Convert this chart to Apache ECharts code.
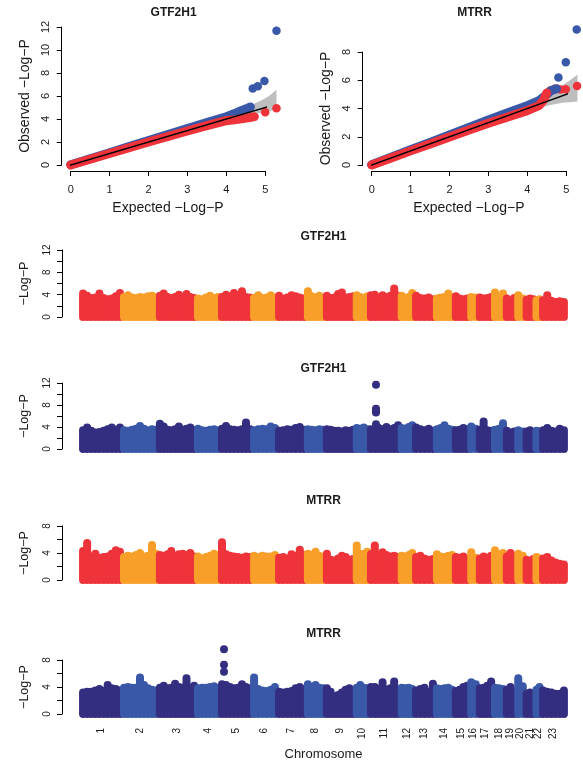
<!DOCTYPE html>
<html><head><meta charset="utf-8">
<script src="https://cdn.jsdelivr.net/npm/echarts@6/dist/echarts.min.js"></script>
<style>html,body{margin:0;padding:0;background:#fff}#c{width:583px;height:763px}</style>
</head><body><div id="c"></div>
<script>
const FONT = '"Liberation Sans", Arial, Helvetica, sans-serif';
const RED = '#EE343A', ORANGE = '#F79F29', NAVY = '#332E80', LBLUE = '#3A58A8', QQBLUE = '#3A58A8', GREY = '#BEBEBE';
const TXT = '#1a1a1a';

// ---------- chromosomes (SNP-index widths) ----------
const chromNames = ['1','2','3','4','5','6','7','8','9','10','11','12','13','14','15','16','17','18','19','20','21','22','23'];
const chromSizes = [41,36,38,24,32,25,29,19,30,14,31,14,21,19,15,9,15,12,11,9,10,6,25];

// ---------- Manhattan envelopes: -log10(P) column tops per chromosome ----------
const gtfAdjTops = [
 [4.2,3.8,3.4,3.5,4.2,3.4,3.2,3.3,3.7,4.3],
 [3.6,3.9,3.5,3.4,3.6,3.5,3.7,3.8,3.5],
 [3.8,4.2,3.6,3.4,3.6,4.0,3.5,4.1,3.6,3.4],
 [3.3,3.2,3.5,3.8,3.4,3.6],
 [3.6,4.0,3.7,4.3,3.9,4.6,3.6,3.5],
 [3.4,3.9,3.4,3.5,3.9,3.5],
 [3.8,3.3,3.5,3.9,3.7,3.5,3.3],
 [4.6,3.7,3.5,3.8,3.5],
 [3.8,3.4,3.5,4.1,4.4,3.5,3.6,3.7],
 [3.9,3.6,3.4,3.7],
 [3.9,4.0,3.5,3.9,3.6,3.8,5.1,3.8],
 [3.8,3.4,3.6,4.3],
 [3.8,3.4,3.3,3.5,3.2],
 [3.3,3.5,3.6,4.2,3.6],
 [3.7,3.3,3.2,3.3],
 [3.6,3.5],
 [3.5,3.3,3.4,3.6],
 [4.4,3.6,4.2],
 [3.3,2.9,3.4],
 [3.9,3.3],
 [3.1,3.3,3.2],
 [3.0,3.2],
 [3.0,3.9,2.9,2.7,2.8,2.7]
];
const gtfRawTops = [
 [3.4,3.9,3.3,3.0,3.1,3.3,3.6,3.9,3.5,3.9],
 [3.4,3.3,3.5,3.7,4.2,3.7,3.4,3.6,3.5],
 [4.6,4.1,3.5,3.4,3.6,4.1,3.5,3.7,3.9,3.4],
 [3.7,3.4,3.3,3.5,3.6,3.4],
 [3.7,4.2,3.6,3.5,3.4,3.6,4.8,3.6],
 [3.4,3.6,3.7,3.6,4.1,3.8],
 [3.3,3.4,3.6,3.5,3.8,4.0,3.5],
 [3.6,3.5,3.4,3.6,3.5],
 [3.6,3.5,3.3,3.3,3.2,3.4,3.3,3.5],
 [3.8,3.7,3.9,3.6],
 [3.6,3.5,3.8,3.6,4.0,3.6,3.8,4.3],
 [3.8,3.7,4.0,4.3],
 [3.9,3.6,3.4,3.7,3.3],
 [3.6,3.8,4.3,3.7,3.5],
 [3.4,3.5,3.8,3.6],
 [4.1,3.7],
 [3.5,5.0,3.4,3.3],
 [3.5,3.7,4.7],
 [3.3,3.0,3.2],
 [3.4,3.2],
 [3.2,3.4,3.1],
 [3.3,3.2],
 [3.4,3.8,3.3,3.2,3.7,3.4]
];
const gtfHitPos = 295;              // SNP index of the chr11 signal
const gtfHits = [11.67, 7.3, 6.85, 6.65, 4.5];

const mtrrAdjTops = [
 [4.3,5.5,3.5,3.9,3.3,3.4,3.5,3.9,4.4,4.2],
 [3.4,3.6,3.5,3.7,4.0,3.5,3.6,5.2,3.9],
 [3.7,3.6,3.8,4.3,3.6,3.8,3.9,3.7,4.0,3.5],
 [3.5,3.2,3.4,3.6,3.9,3.7],
 [5.6,3.8,3.6,3.5,3.4,3.3,3.5,3.4],
 [3.6,3.4,3.6,3.5,3.5,3.7],
 [3.3,3.4,3.2,3.8,3.6,4.5,3.7],
 [3.9,3.7,4.2,3.6,3.4],
 [3.9,3.0,2.9,3.2,3.6,3.4,3.0,3.1],
 [5.1,3.8,3.9,4.2],
 [3.8,5.1,3.6,4.1,3.7,3.5,3.6,3.4],
 [3.6,3.5,3.7,4.0],
 [3.4,3.6,3.2,3.0,3.1],
 [3.8,3.5,3.4,3.6,3.7],
 [3.4,3.3,3.5,3.1],
 [4.1,3.3],
 [3.2,3.5,3.3,3.6],
 [4.4,3.8,4.0],
 [3.5,4.0,3.6],
 [3.9,3.6],
 [3.0,2.8,3.1],
 [3.4,3.2],
 [3.2,3.4,2.9,2.6,2.4,2.3]
];
const mtrrRawTops = [
 [3.2,3.3,3.3,3.5,3.7,3.4,4.3,3.8,3.7,3.5],
 [3.9,4.0,3.9,3.9,5.4,4.3,3.8,3.6,3.5],
 [3.9,4.2,3.8,3.9,4.5,4.0,3.9,5.3,3.8,4.2],
 [3.8,3.9,3.9,4.0,4.1,3.9],
 [4.4,4.3,4.0,3.8,3.9,4.4,4.0,3.8],
 [5.4,3.7,3.5,3.4,3.6,4.0],
 [3.3,3.2,3.3,3.4,3.8,4.0,3.7],
 [4.4,4.0,4.3,3.9,3.8],
 [3.8,3.3,2.6,2.8,3.2,3.6,3.8,3.4],
 [3.9,4.3,3.9,3.8],
 [4.0,4.0,3.7,4.7,3.6,3.8,4.8,3.6],
 [3.9,3.8,3.9,3.7],
 [3.5,3.7,3.9,3.3,4.5],
 [3.8,3.7,3.8,3.9,3.6],
 [3.4,3.6,4.0,4.2],
 [4.7,4.4],
 [3.8,3.9,4.2,4.8],
 [3.9,3.8,3.7],
 [3.6,4.0,3.4],
 [5.3,4.1],
 [3.0,3.2,2.9],
 [3.6,4.0],
 [3.5,3.3,3.2,3.0,3.0,3.5]
];
const mtrrHitPos = 143;             // SNP index of the chr5 signal
const mtrrHits = [9.6, 7.3, 6.25];

// ---------- QQ plots: [expected, observed] ----------
const gtfBlueBand = [[0,0.02],[0.5,0.55],[1,1.07],[1.5,1.6],[2,2.12],[2.5,2.65],[3,3.17],[3.5,3.68],[4,4.2],[4.2,4.45],[4.4,4.75],[4.55,4.95],[4.62,5.05]];
const gtfBlueTail = [[4.68,6.65],[4.81,6.85],[4.98,7.3],[5.29,11.67]];
const gtfRedBand  = [[0,0],[0.5,0.5],[1,1.0],[1.5,1.5],[2,2.0],[2.5,2.48],[3,2.96],[3.5,3.42],[4,3.85],[4.3,3.97],[4.6,4.12],[4.72,4.2]];
const gtfRedTail  = [[5.0,4.58],[5.29,4.93]];
const gtfCiX    = [3.8,4.0,4.3,4.6,4.9,5.1,5.29];
const gtfCiLow  = [3.7,3.85,4.1,4.35,4.55,4.7,4.82];
const gtfCiHigh = [3.95,4.35,4.75,5.15,5.6,6.0,6.55];

const mtrrBlueBand = [[0,0.03],[0.5,0.56],[1,1.08],[1.5,1.6],[2,2.13],[2.5,2.66],[3,3.18],[3.5,3.7],[4,4.2],[4.3,4.55],[4.5,5.0],[4.6,5.25],[4.75,5.4]];
const mtrrBlueTail = [[4.8,6.2],[4.99,7.27],[5.27,9.6]];
const mtrrRedBand  = [[0,0],[0.5,0.5],[1,1.0],[1.5,1.49],[2,1.98],[2.5,2.47],[3,2.95],[3.5,3.4],[4,3.85],[4.3,4.2],[4.42,4.6],[4.5,5.1]];
const mtrrRedTail  = [[4.6,5.3],[4.7,5.4],[4.77,5.4],[4.85,5.35],[4.99,5.36],[5.28,5.6]];
const mtrrCiX    = [3.8,4.0,4.3,4.6,4.9,5.1,5.29];
const mtrrCiLow  = [3.7,3.85,4.05,4.25,4.4,4.45,4.5];
const mtrrCiHigh = [3.95,4.35,4.75,5.2,5.65,6.0,6.4];

const refLine = [[-0.21,-0.21],[5.5,5.5]];

// ---------- helpers ----------
const totalSnps = chromSizes.reduce((a,b)=>a+b,0);
const chromCenters = [];
(function(){ let s=0; chromSizes.forEach(w=>{ chromCenters.push(s+w/2); s+=w; }); })();

function manhattanData(tops){
  const out=[]; let start=0;
  tops.forEach((arr,c)=>{
    const w=chromSizes[c], n=arr.length;
    arr.forEach((h,i)=>out.push([start+(i+0.5)*w/n, h, c%2]));
    start+=w;
  });
  return out;
}
function capsules(idx, tops, colors){
  return {type:'custom', xAxisIndex:idx, yAxisIndex:idx, data:manhattanData(tops), clip:false, silent:true,
    encode:{x:0,y:1},
    renderItem:(p,api)=>{
      const x=api.value(0), h=api.value(1);
      const a=api.coord([x,0]), b=api.coord([x,h]);
      return {type:'line', shape:{x1:a[0],y1:a[1],x2:b[0],y2:b[1]},
        style:{stroke:colors[api.value(2)], lineWidth:8, lineCap:'round'}};
    }};
}
function hits(idx, pos, vals, color){
  return {type:'scatter', xAxisIndex:idx, yAxisIndex:idx, data:vals.map(v=>[pos,v]), symbol:'circle', symbolSize:8,
    itemStyle:{color:color, opacity:1}, clip:false, silent:true};
}
function ciPoly(idx, xs, lo, hi){
  const data = xs.map((x,i)=>[x,lo[i],hi[i]]);
  return {type:'custom', xAxisIndex:idx, yAxisIndex:idx, data, clip:false, silent:true, encode:{x:0,y:1},
    renderItem:(p,api)=>{
      if (p.dataIndex!==0) return null;
      const pts=[];
      data.forEach(d=>pts.push(api.coord([d[0],d[2]])));
      for(let i=data.length-1;i>=0;i--) pts.push(api.coord([data[i][0],data[i][1]]));
      return {type:'polygon', shape:{points:pts}, style:{fill:GREY}};
    }};
}
function band(idx, pts, color){
  return {type:'line', xAxisIndex:idx, yAxisIndex:idx, data:pts, showSymbol:false, symbol:'none', clip:false, silent:true,
    lineStyle:{color, width:9, cap:'round', join:'round'}};
}
function tail(idx, pts, color){
  return {type:'scatter', xAxisIndex:idx, yAxisIndex:idx, data:pts, symbol:'circle', symbolSize:8.5,
    itemStyle:{color, opacity:1}, clip:false, silent:true};
}
function diag(idx){
  return {type:'line', xAxisIndex:idx, yAxisIndex:idx, data:refLine, showSymbol:false, symbol:'none', clip:false, silent:true,
    lineStyle:{color:'#000', width:1.3}};
}

const axLine = {show:true, onZero:false, lineStyle:{color:'#000', width:1}};
const axTick = {show:true, length:5, lineStyle:{color:'#000', width:1}};

function qqX(idx){
  return {gridIndex:idx, type:'value', min:0, max:5, interval:1, offset:6,
    axisLine:axLine, axisTick:axTick, splitLine:{show:false},
    axisLabel:{fontSize:11, color:TXT, fontFamily:FONT, margin:13},
    name:'Expected \u2212Log\u2212P', nameLocation:'middle', nameGap:30,
    nameTextStyle:{fontSize:14, color:TXT, fontFamily:FONT}};
}
function qqY(idx, max){
  return {gridIndex:idx, type:'value', min:0, max:max, interval:2, offset:9,
    axisLine:axLine, axisTick:axTick, splitLine:{show:false},
    axisLabel:{fontSize:11, color:TXT, fontFamily:FONT, rotate:90, margin:10},
    name:'Observed \u2212Log\u2212P', nameLocation:'middle', nameGap:30,
    nameTextStyle:{fontSize:14, color:TXT, fontFamily:FONT}};
}
function mX(idx, labels){
  const ax = {gridIndex:idx, type:'value', min:0, max:totalSnps, splitLine:{show:false},
    axisLine:{show:false}, axisTick:{show:false}, axisLabel:{show:false}};
  if (labels){
    ax.axisLabel = {show:true, customValues:chromCenters, rotate:90, fontSize:10, color:TXT, fontFamily:FONT, margin:14,
      formatter:(v)=>{ const i=chromCenters.findIndex(c=>Math.abs(c-v)<1e-6); return i>=0?chromNames[i]:''; }};
    ax.name='Chromosome'; ax.nameLocation='middle'; ax.nameGap=34;
    ax.nameTextStyle={fontSize:13, color:TXT, fontFamily:FONT};
  }
  return ax;
}
function mY(idx, max){
  return {gridIndex:idx, type:'value', min:0, max:max, interval:2, offset:19,
    axisLine:axLine, axisTick:axTick, splitLine:{show:false},
    axisLabel:{fontSize:10, color:TXT, fontFamily:FONT, rotate:90, margin:10,
      formatter:(v)=> (v%4===0 ? String(v) : '')},
    name:'\u2212Log\u2212P', nameLocation:'middle', nameGap:31,
    nameTextStyle:{fontSize:12.5, color:TXT, fontFamily:FONT}};
}
function ttl(text, cx, cy){
  return {text, left:cx, top:cy-7, textAlign:'center', padding:0,
    textStyle:{fontSize:12, fontWeight:'bold', color:TXT, fontFamily:FONT, lineHeight:14}};
}

const G = (left, top, width, height)=>({left, top, width, height, outerBoundsMode:'none', containLabel:false});

const option = {
  animation:false,
  backgroundColor:'#fff',
  title:[
    ttl('GTF2H1', 173.6, 12.7), ttl('MTRR', 474.6, 12.7),
    ttl('GTF2H1', 323.5, 237), ttl('GTF2H1', 323.5, 369),
    ttl('MTRR', 323.5, 500.5), ttl('MTRR', 323.5, 634)
  ],
  grid:[
    G(70.7, 27, 194.5, 138),
    G(371.7, 52, 194.5, 113),
    G(81, 250, totalSnps, 67),
    G(81, 383, totalSnps, 66),
    G(81, 526, totalSnps, 54),
    G(81, 660, totalSnps, 54)
  ],
  xAxis:[ qqX(0), qqX(1), mX(2,false), mX(3,false), mX(4,false), mX(5,true) ],
  yAxis:[ qqY(0,12), qqY(1,8), mY(2,12), mY(3,12), mY(4,8), mY(5,8) ],
  series:[
    ciPoly(0, gtfCiX, gtfCiLow, gtfCiHigh),
    band(0, gtfBlueBand, QQBLUE), tail(0, gtfBlueTail, QQBLUE),
    band(0, gtfRedBand, RED), tail(0, gtfRedTail, RED),
    diag(0),
    ciPoly(1, mtrrCiX, mtrrCiLow, mtrrCiHigh),
    band(1, mtrrBlueBand, QQBLUE), tail(1, mtrrBlueTail, QQBLUE),
    band(1, mtrrRedBand, RED), tail(1, mtrrRedTail, RED),
    diag(1),
    capsules(2, gtfAdjTops, [RED, ORANGE]),
    capsules(3, gtfRawTops, [NAVY, LBLUE]),
    hits(3, gtfHitPos, gtfHits, NAVY),
    capsules(4, mtrrAdjTops, [RED, ORANGE]),
    capsules(5, mtrrRawTops, [NAVY, LBLUE]),
    hits(5, mtrrHitPos, mtrrHits, NAVY)
  ]
};
const chart = echarts.init(document.getElementById('c'), null, {renderer:'canvas'});
chart.setOption(option);
</script>
</body></html>
